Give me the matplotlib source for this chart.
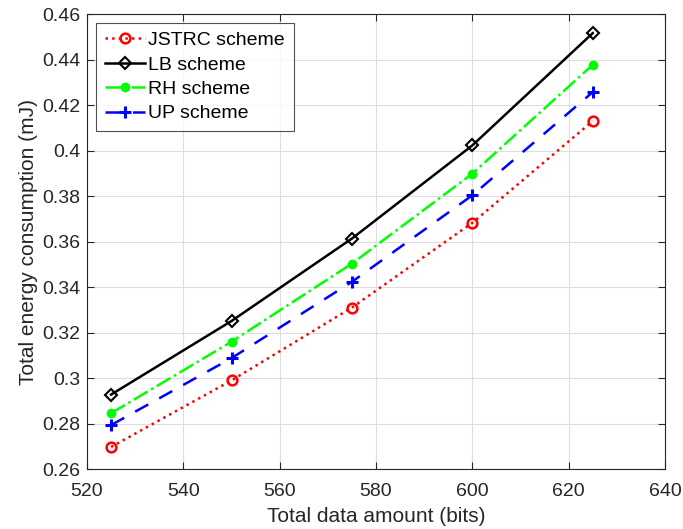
import numpy as np
import matplotlib.pyplot as plt

plt.rcParams['font.family'] = ['Liberation Sans', 'DejaVu Sans']

# date
x = [525, 550, 575, 600, 625]
jstrc = [0.2699, 0.2991, 0.3311, 0.3683, 0.4130]
lb = [0.2929, 0.3252, 0.3614, 0.4023, 0.4516]
rh = [0.2847, 0.3161, 0.3504, 0.3899, 0.4377]
up = [0.2795, 0.3089, 0.3424, 0.3804, 0.4257]

fig = plt.figure(figsize=(6.83, 5.29), dpi=100)
ax = fig.add_axes([0.1274, 0.1125, 0.8462, 0.861])

ax.plot(x, jstrc, ':', color='red', linewidth=1.8, marker='o', markersize=7,
        markerfacecolor='none', markeredgewidth=1.8, label='JSTRC scheme')
ax.plot(x, lb, '-', color='black', linewidth=1.8, marker='D', markersize=6.5,
        markerfacecolor='none', markeredgewidth=1.5, label='LB scheme')
ax.plot(x, rh, '-.', color=(0, 1, 0), linewidth=1.8, marker='o', markersize=6,
        markerfacecolor=(0, 1, 0), label='RH scheme')
ax.plot(x, up, '--', color='blue', linewidth=1.8, marker='+', markersize=8,
        markeredgewidth=2.2, dashes=(6, 5), label='UP scheme')

ax.set_xlim(520, 640)
ax.set_ylim(0.26, 0.46)
ax.set_xticks(np.arange(520, 641, 20))
ax.set_yticks(np.arange(0.26, 0.461, 0.02))
ax.set_yticklabels(['0.26', '0.28', '0.3', '0.32', '0.34', '0.36', '0.38', '0.4',
                    '0.42', '0.44', '0.46'])
ax.grid(True, color='#dedede', linewidth=0.8)
ax.set_axisbelow(True)
ax.tick_params(direction='in', top=True, right=True, labelsize=14, length=5,
               color='#262626', labelcolor='#262626', pad=5)
ax.tick_params(axis='x', pad=10)
for s in ax.spines.values():
    s.set_color('#262626')
    s.set_linewidth(0.8)

ax.set_xlabel('Total data amount (bits)', fontsize=15, color='#262626', labelpad=5)
ax.set_ylabel('Total energy consumption (mJ)', fontsize=15, color='#262626', labelpad=3)

leg = ax.legend(loc='upper left', fontsize=14, frameon=True, fancybox=False,
                edgecolor='#262626', borderaxespad=0.45, handlelength=2.1,
                labelspacing=0.35, borderpad=0.45, handletextpad=0.15)
leg.get_frame().set_linewidth(0.8)

fig.savefig('out.png', dpi=100)
